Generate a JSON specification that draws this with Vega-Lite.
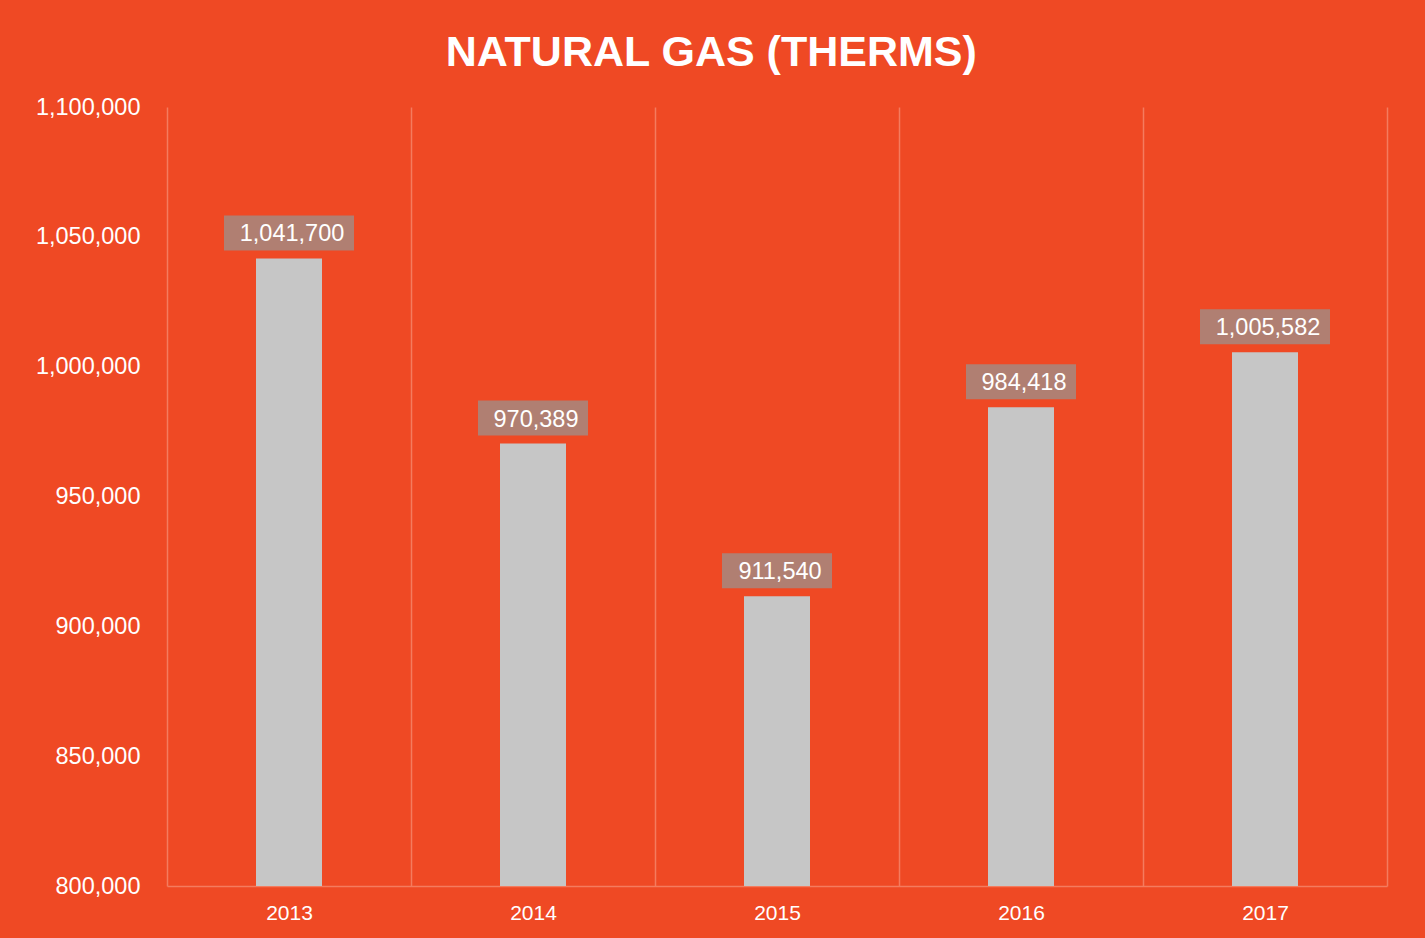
{
  "$schema": "https://vega.github.io/schema/vega-lite/v6.json",
  "width": 1220,
  "height": 779,
  "autosize": {"type": "none"},
  "padding": {"left": 167, "top": 107, "right": 38, "bottom": 52},
  "background": "#EF4924",
  "title": {
    "text": "NATURAL GAS (THERMS)",
    "anchor": "middle",
    "frame": "bounds",
    "font": "Liberation Sans",
    "fontSize": 43,
    "fontWeight": "bold",
    "color": "#FFFFFF",
    "offset": 20
  },
  "config": {
    "view": {"stroke": null},
    "font": "Liberation Sans"
  },
  "data": {
    "values": [
      {"year": "2013", "value": 1041700},
      {"year": "2014", "value": 970389},
      {"year": "2015", "value": 911540},
      {"year": "2016", "value": 984418},
      {"year": "2017", "value": 1005582}
    ]
  },
  "encoding": {
    "x": {
      "field": "year",
      "type": "ordinal",
      "scale": {"paddingInner": 0, "paddingOuter": 0},
      "axis": {
        "title": null,
        "tickBand": "extent",
        "grid": true,
        "gridColor": "#F47B5E",
        "gridWidth": 1.5,
        "ticks": false,
        "domain": true,
        "domainColor": "#F47B5E",
        "domainWidth": 1.5,
        "labelColor": "#FFFFFF",
        "labelFont": "Liberation Sans",
        "labelFontSize": 21,
        "labelPadding": 16,
        "labelAngle": 0
      }
    },
    "y": {
      "field": "value",
      "type": "quantitative",
      "scale": {"domain": [800000, 1100000], "zero": false, "nice": false},
      "axis": {
        "title": null,
        "values": [800000, 850000, 900000, 950000, 1000000, 1050000, 1100000],
        "format": ",",
        "labelExpr": "format(datum.value, ',')",
        "domain": false,
        "ticks": false,
        "grid": false,
        "labelColor": "#FFFFFF",
        "labelFont": "Liberation Sans",
        "labelFontSize": 23.5,
        "labelPadding": 27
      }
    }
  },
  "layer": [
    {
      "mark": {"type": "bar", "width": 66, "fill": "#C6C6C6"},
      "encoding": {
        "y2": {"datum": 800000}
      }
    },
    {
      "transform": [{"filter": "datum.value >= 1000000"}],
      "mark": {"type": "bar", "width": 130, "fill": "#B07F72", "yOffset": -43, "y2Offset": -8},
      "encoding": {
        "y2": {"field": "value"}
      }
    },
    {
      "transform": [{"filter": "datum.value < 1000000"}],
      "mark": {"type": "bar", "width": 110, "fill": "#B07F72", "yOffset": -43, "y2Offset": -8},
      "encoding": {
        "y2": {"field": "value"}
      }
    },
    {
      "mark": {"type": "text", "dy": -24, "dx": 3, "baseline": "middle", "align": "center", "fontSize": 23.5, "color": "#FFFFFF", "font": "Liberation Sans"},
      "encoding": {
        "text": {"field": "value", "type": "quantitative", "format": ","}
      }
    }
  ]
}
